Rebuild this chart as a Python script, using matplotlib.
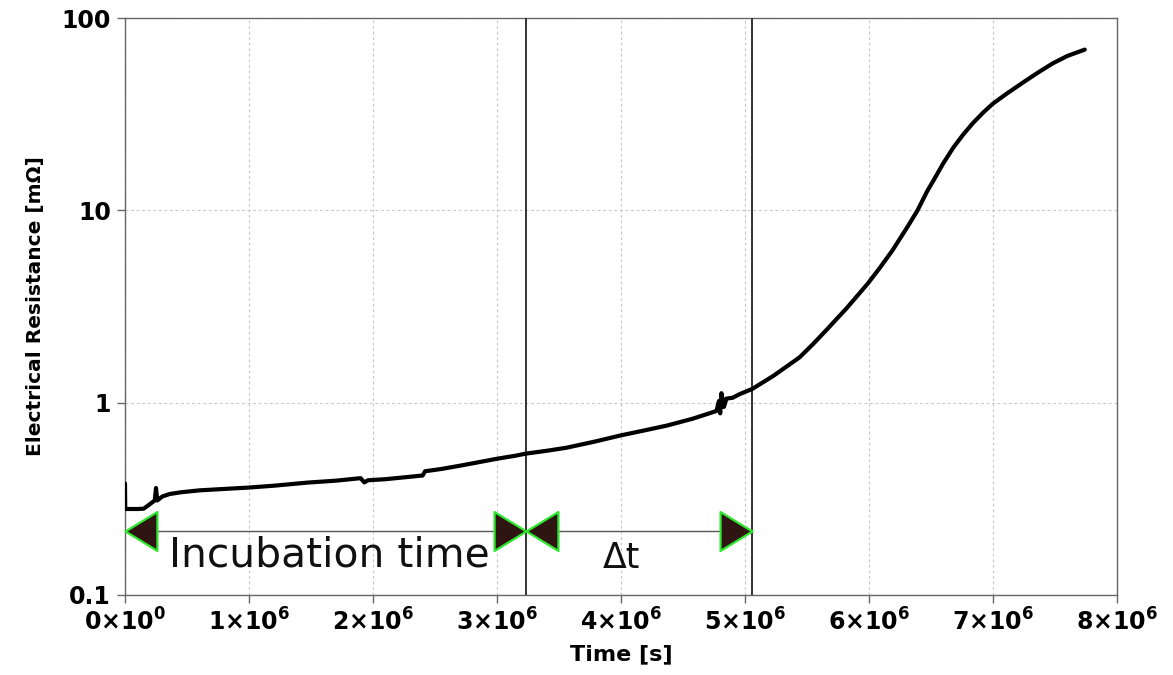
import matplotlib
matplotlib.use("Agg")
import matplotlib.pyplot as plt
import numpy as np
from matplotlib.path import Path

# ---- data ----
time_s = np.array([
    0.000, 0.002, 0.05, 0.10, 0.15, 0.18, 0.21, 0.24, 0.25, 0.26, 0.30, 0.36, 0.45,
    0.60, 0.80, 1.00, 1.20, 1.47, 1.70, 1.90, 1.93, 1.96, 2.10, 2.30, 2.40, 2.42,
    2.55, 2.70, 2.85, 3.00, 3.15, 3.23, 3.40, 3.56, 3.80, 3.99, 4.20, 4.37, 4.58,
    4.77, 4.79, 4.80, 4.81, 4.83, 4.85, 4.90, 4.96, 5.06, 5.23, 5.44, 5.55, 5.66,
    5.82, 5.99, 6.09, 6.19, 6.31, 6.39, 6.47, 6.52, 6.60, 6.68, 6.76, 6.84, 6.92,
    7.00, 7.11, 7.24, 7.35, 7.48, 7.60, 7.74]) * 1e6
resistance_mohm = np.array([
    0.38, 0.28, 0.28, 0.28, 0.281, 0.29, 0.30, 0.31, 0.36, 0.31, 0.325, 0.335, 0.342,
    0.350, 0.356, 0.362, 0.370, 0.384, 0.393, 0.405, 0.385, 0.395, 0.400, 0.412, 0.418, 0.440,
    0.452, 0.470, 0.490, 0.511, 0.530, 0.543, 0.562, 0.583, 0.630, 0.674, 0.72, 0.76, 0.826,
    0.905, 1.02, 0.88, 1.12, 0.95, 1.05, 1.06, 1.11, 1.18, 1.38, 1.72, 2.02, 2.40,
    3.10, 4.16, 5.05, 6.20, 8.20, 9.96, 12.6, 14.3, 17.6, 21.2, 24.8, 28.5, 32.2,
    35.9, 40.4, 46.1, 51.4, 58.0, 63.5, 68.5])

incubation_end = 3.23e6
failure_time = 5.06e6
arrow_level = 0.215

x_ticks = [0, 1e6, 2e6, 3e6, 4e6, 5e6, 6e6, 7e6, 8e6]
x_tick_labels = [r'$\mathbf{0{\times}10^{0}}$'] + \
    [r'$\mathbf{%d{\times}10^{6}}$' % i for i in range(1, 9)]
y_ticks = [0.1, 1, 10, 100]
y_tick_labels = ['0.1', '1', '10', '100']

# ---- figure ----
fig = plt.figure(figsize=(11.73, 6.75), dpi=100)
ax = fig.add_axes([125/1173, 1 - 595/675, (1117-125)/1173, (595-18)/675])
ax.set_yscale('log')
ax.set_xlim(0, 8e6)
ax.set_ylim(0.1, 100)

ax.grid(True, which='major', color='#c8c8c8', linestyle=(0, (2.5, 2.5)), linewidth=0.8)
ax.set_axisbelow(True)

ax.plot(time_s, resistance_mohm, color='black', linewidth=3.0, solid_joinstyle='round',
        solid_capstyle='round', zorder=4)

for xv in (incubation_end, failure_time):
    ax.axvline(xv, color='#333333', linewidth=1.4, zorder=3)

ax.plot([0, incubation_end], [arrow_level, arrow_level], color='#555555', linewidth=1.0, zorder=3)
ax.plot([incubation_end, failure_time], [arrow_level, arrow_level], color='#555555', linewidth=1.0, zorder=3)

w, h = 32, 39
left_tri = Path([(0, 0), (w, h/2), (w, -h/2), (0, 0)], closed=True)
right_tri = Path([(0, 0), (-w, h/2), (-w, -h/2), (0, 0)], closed=True)
tri_kw = dict(markersize=46, markerfacecolor='#2e1512', markeredgecolor='#2ee82e',
              markeredgewidth=1.6, linestyle='none', zorder=5, clip_on=False)
ax.plot([0, incubation_end], [arrow_level, arrow_level], marker=left_tri, **tri_kw)
ax.plot([incubation_end, failure_time], [arrow_level, arrow_level], marker=right_tri, **tri_kw)

ax.text(1.65e6, 0.16, 'Incubation time', fontsize=29.3, ha='center', va='center', color='#111111')
ax.text(4.0e6, 0.156, 'Δt', fontsize=25, ha='center', va='center', color='#111111')

ax.set_xticks(x_ticks)
ax.set_xticklabels(x_tick_labels, fontsize=17)
ax.set_yticks(y_ticks)
ax.set_yticklabels(y_tick_labels, fontsize=17, fontweight='bold')
ax.minorticks_off()
ax.tick_params(direction='out', length=6, width=1, color='#666666', pad=4)

for s in ax.spines.values():
    s.set_color('#666666')
    s.set_linewidth(1.0)

ax.set_xlabel('Time [s]', fontsize=16, fontweight='bold', labelpad=6)
ax.set_ylabel('Electrical Resistance [mΩ]', fontsize=14.5, fontweight='bold', labelpad=12)

fig.savefig('out.png', dpi=100)
